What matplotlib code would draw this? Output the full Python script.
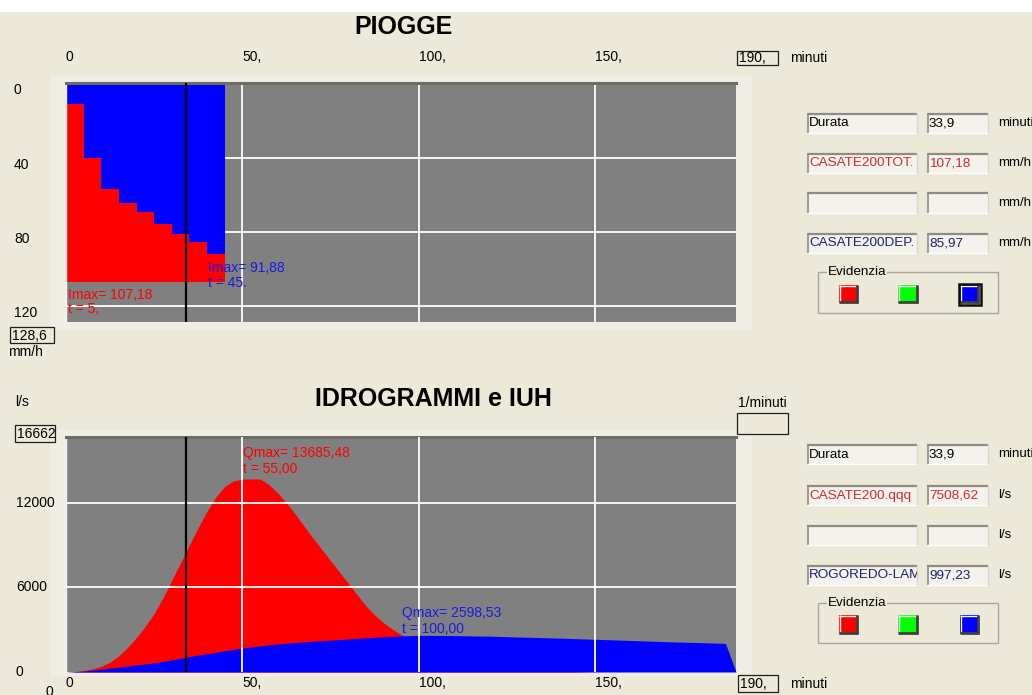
import matplotlib
matplotlib.use("Agg")
import matplotlib.pyplot as plt
import matplotlib.transforms as mtrans
from matplotlib import font_manager
from matplotlib.patches import Rectangle
from matplotlib.lines import Line2D

# ---------------------------------------------------------------- data
T_MAX = 190
DURATA = 33.9

time_ticks = [0, 50, 100, 150]
time_tick_labels = ["0", "50,", "100,", "150,"]

# rainfall hyetographs, 5-minute blocks (mm/h)
rain_start = [0, 5, 10, 15, 20, 25, 30, 35, 40]
rain_tot = [107.18, 107.18, 107.18, 107.18, 107.18, 107.18, 107.18, 107.18, 107.18]
rain_dep = [11.4, 40.1, 56.8, 64.3, 69.3, 76.0, 81.0, 85.5, 91.88]
rain_axis_max = 128.6
rain_yticks = [0, 40, 80, 120]
rain_ytick_labels = ["0", "40", "80", "120"]

# hydrographs (l/s)
q_tot_t = [0, 2.5, 5, 7.5, 10, 12.5, 15, 17.5, 20, 22.5, 25, 27.5, 30, 32.5, 35,
           37.5, 40, 42.5, 45, 47.5, 50, 52.5, 55, 57.5, 60, 62.5, 65, 67.5, 70,
           72.5, 75, 77.5, 80, 82.5, 85, 87.5, 90, 92.5, 95, 100, 105, 110, 115,
           120, 125, 130, 140, 150]
q_tot = [0, 20, 100, 220, 400, 700, 1150, 1750, 2450, 3250, 4150, 5250, 6500, 7750,
         9000, 10250, 11400, 12400, 13150, 13550, 13675, 13684, 13685.48, 13300,
         12700, 12000, 11200, 10350, 9500, 8700, 7900, 7100, 6300, 5500, 4700,
         4050, 3500, 3050, 2650, 2000, 1500, 1100, 800, 550, 350, 200, 60, 0]
q_dep_t = [0, 5, 10, 15, 20, 25, 30, 35, 40, 45, 50, 55, 60, 65, 70, 75, 80, 85,
           90, 95, 100, 110, 120, 130, 140, 155, 170, 187, 190]
q_dep = [0, 60, 200, 350, 500, 650, 850, 1100, 1300, 1500, 1700, 1850, 1980, 2080,
         2180, 2260, 2340, 2420, 2500, 2560, 2598.53, 2580, 2540, 2470, 2400, 2280,
         2150, 2030, 0]
flow_axis_max = 16662
flow_yticks = [0, 6000, 12000]
flow_ytick_labels = ["0", "6000", "12000"]

# side panels
rain_names = ["Durata", "CASATE200TOT.", "", "CASATE200DEP."]
rain_values = ["33,9", "107,18", "", "85,97"]
rain_units = ["minuti", "mm/h", "mm/h", "mm/h"]
flow_names = ["Durata", "CASATE200.qqq", "", "ROGOREDO-LAM"]
flow_values = ["33,9", "7508,62", "", "997,23"]
flow_units = ["minuti", "l/s", "l/s", "l/s"]

# ---------------------------------------------------------------- style
W, H = 1032, 695
BG = "#ECE9D8"
PANEL = "#F0EEE4"
PLOT_BG = "#808080"
RED = "#FF0000"
BLUE = "#0000FF"
GREEN = "#00FF00"
RED_TXT = "#D42A2A"
NAVY = "#20206E"
ROW_COLORS = ["black", RED_TXT, "black", NAVY]

installed = {f.name for f in font_manager.fontManager.ttflist}
if "Liberation Sans Narrow" in installed:
    UI_FONT, UI_SIZE = "Liberation Sans Narrow", 11.5
else:
    UI_FONT, UI_SIZE = "Liberation Sans", 10
BOX_SIZE = UI_SIZE * 0.97
UNIT_SIZE = UI_SIZE * 0.95
TITLE_FONT = "Liberation Sans"

fig = plt.figure(figsize=(W / 100, H / 100), dpi=100)
fig.patch.set_facecolor(BG)


def fx(x):
    return x / W


def fy(y):
    return 1 - y / H


def rect_px(x0, y0, x1, y1):
    return [fx(x0), fy(y1), (x1 - x0) / W, (y1 - y0) / H]


def ftext(x, y, s, color="black", **kw):
    kw.setdefault("va", "center")
    kw.setdefault("fontfamily", UI_FONT)
    kw.setdefault("fontsize", UI_SIZE)
    return fig.text(fx(x), fy(y), s, color=color, **kw)


def fline(xs, ys, color, lw, zorder=2):
    fig.add_artist(Line2D([fx(v) for v in xs], [fy(v) for v in ys],
                          transform=fig.transFigure, color=color, lw=lw,
                          zorder=zorder, solid_capstyle="butt"))


def frect(x0, y0, x1, y1, face, edge="none", lw=0, zorder=1):
    r = Rectangle((fx(x0), fy(y1)), (x1 - x0) / W, (y1 - y0) / H,
                  transform=fig.transFigure, facecolor=face, edgecolor=edge,
                  lw=lw, zorder=zorder)
    fig.add_artist(r)
    return r


def sunken_box(x0, y0, x1, y1, text="", color="black"):
    box = frect(x0, y0, x1, y1, "#F3F2EC")
    fline([x0, x1], [y0 + 0.5, y0 + 0.5], "#8E8C84", 1.6)
    fline([x0 + 0.5, x0 + 0.5], [y0, y1], "#8E8C84", 1.2)
    fline([x0, x1], [y1 - 0.5, y1 - 0.5], "#FFFFFF", 1.0)
    fline([x1 - 0.5, x1 - 0.5], [y0, y1], "#D8D6CC", 1.0)
    if text:
        t = ftext(x0 + 2, (y0 + y1) / 2 + 0.5, text, color=color, fontsize=BOX_SIZE)
        t.set_clip_path(box)


def value_box(x0, y0, x1, y1, text=""):
    box = frect(x0, y0, x1, y1, BG, edge="#1E1E1E", lw=0.9)
    if text:
        t = ftext(x0 + 2, (y0 + y1) / 2 + 0.5, text)
        t.set_clip_path(box)


def colour_button(x0, y0, x1, y1, color, selected=False):
    frect(x0, y0, x1, y1, color)
    fline([x0, x1], [y0 + 0.5, y0 + 0.5], "#FFFFFF", 1.0)
    fline([x0 + 0.5, x0 + 0.5], [y0, y1], "#FFFFFF", 1.0)
    fline([x0, x1], [y1 - 1, y1 - 1], "#404040", 2.0)
    fline([x1 - 1, x1 - 1], [y0, y1], "#404040", 2.0)
    if selected:
        frect(x0 - 1.5, y0 - 1.5, x1 + 1.5, y1 + 1.5, "none", edge="#101010",
              lw=1.8, zorder=3)


def evidenzia_group(y0, y1, btn_y0, btn_y1, selected_blue):
    frect(818, y0, 998, y1, "none", edge="#A8A69C", lw=1.0)
    ftext(828, y0, "Evidenzia", fontsize=BOX_SIZE,
          bbox=dict(facecolor=BG, edgecolor="none", pad=0.5))
    colour_button(839, btn_y0, 858, btn_y1, RED)
    colour_button(898, btn_y0, 918, btn_y1, GREEN)
    colour_button(960, btn_y0, 979, btn_y1, BLUE, selected=selected_blue)


def side_panel(row_tops, names, values, units, ev_box, ev_btn, selected_blue):
    for top, name, val, unit, col in zip(row_tops, names, values, units, ROW_COLORS):
        sunken_box(807, top, 917, top + 20, name, col)
        sunken_box(927, top, 988, top + 20, val, col)
        ftext(998, top + 10, unit, fontsize=UNIT_SIZE)
    evidenzia_group(ev_box[0], ev_box[1], ev_btn[0], ev_btn[1], selected_blue)


def style_plot(ax, grid_above):
    ax.set_facecolor(PLOT_BG)
    ax.set_axisbelow(not grid_above)
    ax.grid(True, color="white", lw=1.3)
    ax.tick_params(length=0, labelbottom=False, labelleft=False,
                   labeltop=False, labelright=False)
    for side in ("bottom", "right"):
        ax.spines[side].set_visible(False)
    ax.spines["top"].set_color("#6C6C62")
    ax.spines["top"].set_linewidth(2.2)
    ax.spines["left"].set_color("#F4F4F0")
    ax.spines["left"].set_linewidth(1.0)


def tick_texts(ax, dx_px, dy_px, xs, xlabels, ys, ylabels, y_left_px):
    tr = ax.get_xaxis_transform() + mtrans.ScaledTranslation(
        0, dy_px / 100, fig.dpi_scale_trans)
    yref = 1 if dy_px > 0 else 0
    for v, lab in zip(xs, xlabels):
        ax.text(v, yref, lab, transform=tr, ha="left", va="center",
                fontfamily=UI_FONT, fontsize=UI_SIZE, clip_on=False)
    for v, lab in zip(ys, ylabels):
        disp = ax.transData.transform((0, v))[1]
        ftext(y_left_px, H - disp - dx_px, lab, ha="left")


# light frames around the plotting areas and the top strip
frect(0, 0, W, 12, "white", zorder=-5)
frect(50, 76, 752, 330, PANEL, zorder=-5)
frect(50, 430, 752, 676, PANEL, zorder=-5)

# ---------------------------------------------------------------- rainfall
ax1 = fig.add_axes(rect_px(66, 83.3, 736, 322))
ax1.bar(rain_start, rain_tot, width=5, align="edge", color=RED, lw=0, zorder=1)
ax1.bar(rain_start, rain_dep, width=5, align="edge", color=BLUE, lw=0, zorder=1.1)
ax1.axvline(DURATA, color="black", lw=1.6, zorder=3)
ax1.set_xlim(0, T_MAX)
ax1.set_ylim(rain_axis_max, 0)
ax1.set_xticks(time_ticks[1:])
ax1.set_yticks(rain_yticks[1:])
style_plot(ax1, grid_above=False)

i_tot = max(rain_tot)
i_tot_t = rain_start[rain_tot.index(i_tot)] + 5
i_dep = max(rain_dep)
i_dep_t = rain_start[rain_dep.index(i_dep)] + 5
lab_kw = dict(fontfamily=UI_FONT, fontsize=UI_SIZE, va="center", ha="left", zorder=4)
ax1.text(0.6, 113.8, f"Imax= {i_tot:.2f}".replace(".", ","), color=RED, **lab_kw)
ax1.text(0.6, 121.8, f"t = {i_tot_t},", color=RED, **lab_kw)
ax1.text(40.2, 99.5, f"Imax= {i_dep:.2f}".replace(".", ","), color="#1A1AE6", **lab_kw)
ax1.text(40.2, 107.4, f"t = {i_dep_t}.", color="#1A1AE6", **lab_kw)

tick_texts(ax1, -7, 26, time_ticks, time_tick_labels,
           rain_yticks, rain_ytick_labels, y_left_px=14)

fig.text(fx(403), fy(27.5), "PIOGGE", ha="center", va="center",
         fontfamily=TITLE_FONT, fontsize=18, fontweight="bold")
value_box(737, 51, 778, 65, "190,")
ftext(790, 58, "minuti")
value_box(10, 327, 54, 343, "128,6")
ftext(8, 352, "mm/h")

side_panel([113, 153, 193, 233], rain_names, rain_values, rain_units,
           (272, 313), (285, 303), selected_blue=True)

# ---------------------------------------------------------------- hydrographs
ax2 = fig.add_axes(rect_px(66, 437, 736, 672))
ax2.fill_between(q_tot_t, q_tot, color=RED, lw=0, zorder=1)
ax2.fill_between(q_dep_t, q_dep, color=BLUE, lw=0, zorder=1.1)
ax2.axvline(DURATA, color="black", lw=1.6, zorder=3)
ax2.set_xlim(0, T_MAX)
ax2.set_ylim(0, flow_axis_max)
ax2.set_xticks(time_ticks[1:])
ax2.set_yticks(flow_yticks[1:])
style_plot(ax2, grid_above=True)

q_tot_max = max(q_tot)
q_tot_tmax = q_tot_t[q_tot.index(q_tot_max)]
q_dep_max = max(q_dep)
q_dep_tmax = q_dep_t[q_dep.index(q_dep_max)]
ax2.text(50.2, 15556, f"Qmax= {q_tot_max:.2f}".replace(".", ","), color=RED, **lab_kw)
ax2.text(50.2, 14390, f"t = {q_tot_tmax:.2f}".replace(".", ","), color=RED, **lab_kw)
ax2.text(95.3, 4217, f"Qmax= {q_dep_max:.2f}".replace(".", ","), color="#1A1AE6", **lab_kw)
ax2.text(95.3, 3047, f"t = {q_dep_tmax:.2f}".replace(".", ","), color="#1A1AE6", **lab_kw)

tick_texts(ax2, 0, -11, time_ticks, time_tick_labels,
           flow_yticks, flow_ytick_labels, y_left_px=16)
ftext(45, 692, "0")

fig.text(fx(433), fy(399), "IDROGRAMMI e IUH", ha="center", va="center",
         fontfamily=TITLE_FONT, fontsize=18, fontweight="bold")
ftext(15, 402, "l/s")
value_box(15, 425, 55, 442, "16662")
ftext(738, 403, "1/minuti")
value_box(737, 413, 788, 434)
value_box(738, 675, 778, 692, "190,")
ftext(790, 684, "minuti")

side_panel([444, 485, 525, 565], flow_names, flow_values, flow_units,
           (603, 643), (615, 634), selected_blue=False)

fig.savefig("out.png", dpi=100, facecolor=BG)
